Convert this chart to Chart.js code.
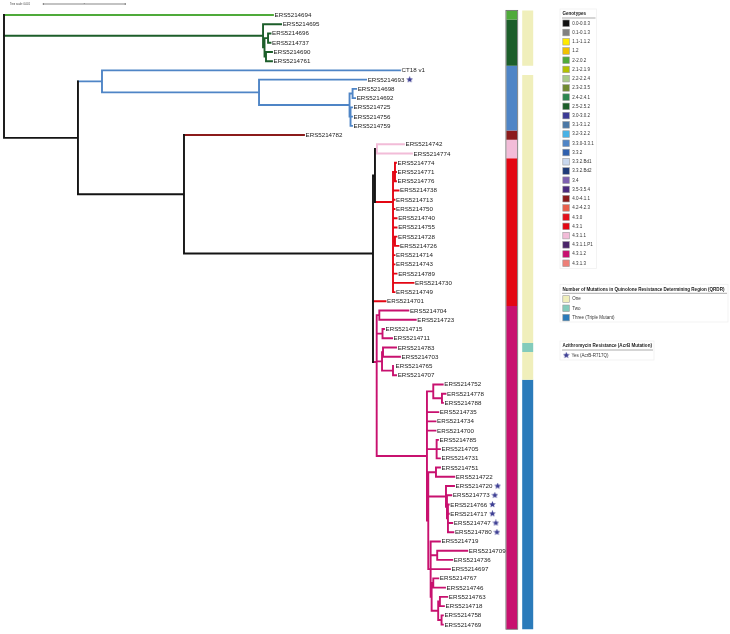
<!DOCTYPE html>
<html>
<head>
<meta charset="utf-8">
<script src="https://cdn.jsdelivr.net/npm/chart.js@4.4.1/dist/chart.umd.min.js"></script>
<style>
html,body{margin:0;padding:0;background:#fff;}
#wrap{position:relative;width:730px;height:634px;}
</style>
</head>
<body>
<div id="wrap"><canvas id="c"></canvas></div>
<script>
// ---------------- DATA ----------------
// Phylogeny (Newick, branch lengths in substitutions/site; "_" = space)
const treeNewick = `(
ERS5214694:0.003280,
(ERS5214695:0.000220,((ERS5214696:0.000030,ERS5214737:0.000030):0.000043,(ERS5214690:0.000073,ERS5214761:0.000073):0.000018):0.000018):0.003159,
(
 (CT18_v1:0.003634,(ERS5214693:0.001305,((ERS5214698:0.000043,ERS5214692:0.000030):0.000037,(ERS5214725:0.000018,ERS5214756:0.000018,ERS5214759:0.000018):0.000012):0.001104):0.001915):0.000293,
 (ERS5214782:0.001463,
  (
   ((ERS5214742:0.000329,ERS5214774:0.000427):0.000024,
    ((ERS5214774:0.000012,ERS5214771:0.000012,ERS5214776:0.000012):0.000024,
     (ERS5214738:0.000067,ERS5214713:0.000018,ERS5214750:0.000018,ERS5214740:0.000043,ERS5214755:0.000043,(ERS5214728:0.000018,ERS5214726:0.000043):0.000024,
      (ERS5214714:0.000018,ERS5214743:0.000018,ERS5214789:0.000043,ERS5214730:0.000250,ERS5214749:0.000018):0
     ):0
    ):0.000220
   ):0.000024,
   (ERS5214701:0.000152,
    ((ERS5214704:0.000354,ERS5214723:0.000444):0.000032,
     (ERS5214715:0.000018,ERS5214711:0.000116):0.000071,
     (
      ((ERS5214783:0.000159,ERS5214703:0.000207):0.000012,(ERS5214765:0.000012,ERS5214707:0.000037):0.000134):0.000065,
      (
       (ERS5214752:0.000115,(ERS5214778:0.000043,ERS5214788:0.000012):0.000106):0.000077,
       ERS5214735:0.000138,ERS5214734:0.000104,ERS5214700:0.000104,
       (ERS5214785:0.000016,ERS5214705:0.000040,ERS5214731:0.000040):0.000118,
       (
        (ERS5214751:0.000049,ERS5214722:0.000223):0.000094,
        (ERS5214720:0.000098,(ERS5214773:0.000052,(ERS5214766:0.000010,ERS5214717:0.000010,ERS5214747:0.000052,ERS5214780:0.000065):0.000012):0.000012):0.000216,
        (ERS5214719:0.000113,(ERS5214709:0.000366,ERS5214736:0.000183):0.000080,ERS5214697:0.000235,
         ((ERS5214767:0.000061,ERS5214746:0.000143):0.000020,((ERS5214763:0.000089,ERS5214718:0.000049):0.000021,(ERS5214758:0.000016,ERS5214769:0.000016):0.000041):0.000080):0.000012
        ):0.000029
       ):0.000016
      ):0.000613
     ):0
    ):0.000045
   ):0
  ):0.002305
 ):0.001293
):0.000902
);`;

const genotypeLabels = ['0.0-0.0.3','0.1-0.1.3','1.1-1.1.2','1.2','2-2.0.2','2.1-2.1.9','2.2-2.2.4','2.3-2.3.5','2.4-2.4.1','2.5-2.5.2','3.0-3.0.2','3.1-3.1.2','3.2-3.2.2','3.3.0-3.3.1','3.3.2','3.3.2.Bd1','3.3.2.Bd2','3.4','3.5-3.5.4','4.0-4.1.1','4.2-4.2.3','4.3.0','4.3.1','4.3.1.1','4.3.1.1.P1','4.3.1.2','4.3.1.3'];
const genotypeColors = ['#111111','#808080','#FFEA00','#F2C200','#4FAA3A','#B4C200','#A9CB8A','#6F8A30','#2C8650','#1C5E2A','#3B3A95','#4B78A6','#48B2E6','#4F85C6','#2F60AE','#C9D8EE','#1F3B78','#7D5FB0','#4A2A7E','#8B1B1B','#E9604B','#E3101B','#E30613','#F2BCD8','#4A2468','#C8116F','#EE7F78'];

// genotype of each tip, top to bottom
const rowGenotype = [
 '2-2.0.2',
 '2.5-2.5.2','2.5-2.5.2','2.5-2.5.2','2.5-2.5.2','2.5-2.5.2',
 '3.3.0-3.3.1','3.3.0-3.3.1','3.3.0-3.3.1','3.3.0-3.3.1','3.3.0-3.3.1','3.3.0-3.3.1','3.3.0-3.3.1',
 '4.0-4.1.1',
 '4.3.1.1','4.3.1.1',
 '4.3.1','4.3.1','4.3.1','4.3.1','4.3.1','4.3.1','4.3.1','4.3.1',
 '4.3.1','4.3.1','4.3.1','4.3.1','4.3.1','4.3.1','4.3.1','4.3.1',
 '4.3.1.2','4.3.1.2','4.3.1.2','4.3.1.2','4.3.1.2','4.3.1.2','4.3.1.2','4.3.1.2','4.3.1.2','4.3.1.2',
 '4.3.1.2','4.3.1.2','4.3.1.2','4.3.1.2','4.3.1.2','4.3.1.2','4.3.1.2','4.3.1.2','4.3.1.2','4.3.1.2',
 '4.3.1.2','4.3.1.2','4.3.1.2','4.3.1.2','4.3.1.2','4.3.1.2','4.3.1.2','4.3.1.2','4.3.1.2','4.3.1.2',
 '4.3.1.2','4.3.1.2','4.3.1.2','4.3.1.2','4.3.1.2'
];

const qrdrKeys = ['One','Two','Three'];
const qrdrLabels = ['One','Two','Three (Triple Mutant)'];
const qrdrColors = ['#F0EFBB','#83CBBB','#2B7BBA'];
// QRDR mutation count of each tip, top to bottom (null = no data)
const rowQrdr = [
 'One','One','One','One','One','One',
 null,
 'One','One','One','One','One','One','One','One','One','One',
 'One','One','One','One','One','One','One','One','One','One',
 'One','One','One','One','One','One','One','One','One',
 'Two',
 'One','One','One',
 'Three','Three','Three','Three','Three','Three','Three','Three','Three','Three',
 'Three','Three','Three','Three','Three','Three','Three','Three','Three','Three',
 'Three','Three','Three','Three','Three','Three','Three'
];

const azmLabel = 'Yes (AcrB-R717Q)';
const azmResistant = ['ERS5214693','ERS5214720','ERS5214773','ERS5214766','ERS5214717','ERS5214747','ERS5214780'];
const treeScaleValue = 0.001;

// ---------------- LAYOUT CONSTANTS ----------------
const W = 730, H = 634;
const PX_PER_UNIT = 82000, ROOT_PX = 4;
const ROW0_PX = 15, ROW_STEP = 9.236;
const FONT = "'Liberation Sans', Arial, sans-serif";
const LABEL_FONT = '6.2px ' + FONT;
const STAR_COLOR = '#3E3F94';

// ---------------- TREE PARSE / LAYOUT ----------------
function parseNewick(str){
  const s = str.replace(/\s+/g,'');
  let i = 0;
  function node(){
    const n = {children:[], name:'', len:0};
    if (s[i] === '('){
      i++;
      do { const c = node(); c.parent = n; n.children.push(c); } while (s[i++] === ',');
    }
    let name = '';
    while (i < s.length && !',():;'.includes(s[i])) name += s[i++];
    n.name = name.replace(/_/g,' ');
    if (s[i] === ':'){ i++; let num=''; while (i < s.length && !',();'.includes(s[i])) num += s[i++]; n.len = parseFloat(num); }
    return n;
  }
  return node();
}
const root = parseNewick(treeNewick);
const leaves = [];
(function lay(n, base){
  n.x = base + n.len;
  if (!n.children.length){ n.y = leaves.length; leaves.push(n); return; }
  n.children.forEach(c => lay(c, n.x));
  n.y = (n.children[0].y + n.children[n.children.length-1].y) / 2;
})(root, 0);
leaves.forEach((lf,i) => { lf.geno = rowGenotype[i]; });
(function geno(n){
  if (!n.children.length) return n.geno;
  const g = n.children.map(geno);
  n.geno = g.every(v => v && v === g[0]) ? g[0] : null;
  return n.geno;
})(root);
const genoColor = g => g ? genotypeColors[genotypeLabels.indexOf(g)] : '#141414';

// branch segments grouped by colour
const branchMap = new Map();
function seg(col, a, b){
  if (!branchMap.has(col)) branchMap.set(col, []);
  branchMap.get(col).push(a, b, {x:null, y:null});
}
(function walk(n){
  const col = genoColor(n.geno);
  if (n.parent) seg(col, {x:n.parent.x, y:n.y}, {x:n.x, y:n.y});
  if (n.children.length){
    seg(col, {x:n.x, y:n.children[0].y}, {x:n.x, y:n.children[n.children.length-1].y});
    n.children.forEach(walk);
  }
})(root);

const datasets = [];
[...branchMap.entries()].sort((a,b)=> (a[0]==='#141414') - (b[0]==='#141414')).reverse().forEach(([col, pts]) => {
  datasets.push({type:'scatter', data:pts, showLine:true, borderColor:col, backgroundColor:col,
    borderWidth:1.9, pointRadius:0, spanGaps:false, borderCapStyle:'square', xAxisID:'x', yAxisID:'y'});
});

// colour strips (runs of equal values)
function stripDatasets(values, keys, colors, xCenter, width){
  const out = new Map();
  let start = 0;
  for (let r = 1; r <= values.length; r++){
    if (r === values.length || values[r] !== values[start]){
      const v = values[start];
      if (v !== null){
        const col = colors[keys.indexOf(v)];
        if (!out.has(col)) out.set(col, []);
        out.get(col).push({x:xCenter, y:start-0.5}, {x:xCenter, y:r-0.5}, {x:null, y:null});
      }
      start = r;
    }
  }
  return [...out.entries()].map(([col, pts]) => ({type:'scatter', data:pts, showLine:true, borderColor:col,
    borderWidth:width, pointRadius:0, spanGaps:false, borderCapStyle:'butt', xAxisID:'xs', yAxisID:'y'}));
}
const STRIP1 = {c:511.8, w:11}, STRIP2 = {c:527.7, w:11};
datasets.push(...stripDatasets(rowGenotype, genotypeLabels, genotypeColors, STRIP1.c, STRIP1.w));
datasets.push(...stripDatasets(rowQrdr, qrdrKeys, qrdrColors, STRIP2.c, STRIP2.w));

// star markers after the labels
function makeStar(size, color){
  const c = document.createElement('canvas'); c.width = c.height = size;
  const g = c.getContext('2d'); g.fillStyle = color; g.beginPath();
  const R = size/2, r = R*0.45;
  for (let k=0;k<10;k++){ const a = -Math.PI/2 + k*Math.PI/5, rr = k%2 ? r : R; g.lineTo(R + rr*Math.cos(a), R + rr*Math.sin(a)); }
  g.closePath(); g.fill(); return c;
}
const starImg = makeStar(7, STAR_COLOR);
const mctx = document.createElement('canvas').getContext('2d');
mctx.font = LABEL_FONT;
const starPts = leaves.filter(l => azmResistant.includes(l.name)).map(l => ({
  x: l.x + (1.6 + mctx.measureText(l.name).width + 5.2) / PX_PER_UNIT, y: l.y }));
datasets.unshift({type:'scatter', data:starPts, pointStyle:starImg, pointRadius:3, xAxisID:'x', yAxisID:'y'});

// ---------------- DECORATION PLUGIN ----------------
const decor = {
  id:'decor',
  afterDatasetsDraw(chart){
    const ctx = chart.ctx, xs = chart.scales.x, ys = chart.scales.y;
    ctx.save();
    // strip frames
    const top = ys.getPixelForValue(-0.5), bot = ys.getPixelForValue(leaves.length-0.5);
    ctx.lineWidth = 0.8;
    ctx.strokeStyle = '#6a6a6a';
    ctx.strokeRect(STRIP1.c - STRIP1.w/2 - 0.4, top, STRIP1.w + 0.8, bot-top);
    // tip labels
    ctx.font = LABEL_FONT; ctx.fillStyle = '#222'; ctx.textBaseline = 'middle'; ctx.textAlign = 'left';
    leaves.forEach(l => ctx.fillText(l.name, xs.getPixelForValue(l.x) + 1.6, ys.getPixelForValue(l.y) + 0.3));
    // tree scale
    const x0 = 43.3, len = xs.getPixelForValue(treeScaleValue) - xs.getPixelForValue(0);
    ctx.strokeStyle = '#555'; ctx.lineWidth = 0.7;
    ctx.beginPath(); ctx.moveTo(x0, 4); ctx.lineTo(x0+len, 4);
    ctx.moveTo(x0, 3); ctx.lineTo(x0, 5); ctx.moveTo(x0+len, 3); ctx.lineTo(x0+len, 5);
    ctx.moveTo(x0+len/2, 3.3); ctx.lineTo(x0+len/2, 4); ctx.stroke();
    ctx.font = '2.6px ' + FONT; ctx.fillStyle = '#333';
    ctx.fillText('Tree scale: ' + treeScaleValue, 10, 4.2);

    // legends
    const LX = 562.5;
    function panel(title, titleY, right, boxBottom){
      ctx.strokeStyle = '#f0f0f0'; ctx.lineWidth = 0.8;
      ctx.strokeRect(LX - 2.5, titleY - 5, right - LX + 3.5, boxBottom - titleY + 5);
      ctx.font = 'bold 4.55px ' + FONT; ctx.fillStyle = '#222'; ctx.textBaseline = 'middle';
      ctx.fillText(title, LX, titleY);
      ctx.strokeStyle = '#888'; ctx.lineWidth = 0.7;
      ctx.beginPath(); ctx.moveTo(LX - 0.5, titleY + 4); ctx.lineTo(right, titleY + 4); ctx.stroke();
    }
    function swatch(y, col){
      ctx.fillStyle = col; ctx.fillRect(LX + 0.3, y - 3.3, 6.6, 6.6);
      ctx.strokeStyle = '#9a9a9a'; ctx.lineWidth = 0.6; ctx.strokeRect(LX + 0.3, y - 3.3, 6.6, 6.6);
    }
    function itemText(t, x, y){ ctx.font = '4.5px ' + FONT; ctx.fillStyle = '#333'; ctx.fillText(t, x, y + 0.2); }

    panel('Genotypes', 14, 595.5, 268.5);
    genotypeLabels.forEach((g, i) => { const y = 23.3 + i*9.23; swatch(y, genotypeColors[i]); itemText(g, 572.3, y); });

    panel('Number of Mutations in Quinolone Resistance Determining Region (QRDR)', 289.3, 727, 322);
    qrdrLabels.forEach((q, i) => { const y = 299 + i*9.3; swatch(y, qrdrColors[i]); itemText(q, 572.3, y); });

    panel('Azithromycin Resistance (AcrB Mutation)', 346, 653, 360);
    ctx.drawImage(starImg, LX + 0.3, 355.3 - 3.5, 7, 7);
    itemText(azmLabel, 571.5, 355.3);
    ctx.restore();
  }
};

new Chart(document.getElementById('c'), {
  type:'scatter',
  data:{datasets},
  options:{
    responsive:true, maintainAspectRatio:false, animation:false, events:[],
    layout:{padding:0, autoPadding:false},
    plugins:{legend:{display:false}, tooltip:{enabled:false}},
    scales:{
      x:{type:'linear', display:false, min:-ROOT_PX/PX_PER_UNIT, max:(W-ROOT_PX)/PX_PER_UNIT},
      xs:{type:'linear', display:false, min:0, max:W},
      y:{type:'linear', display:false, reverse:true, min:-ROW0_PX/ROW_STEP, max:(H-ROW0_PX)/ROW_STEP}
    }
  },
  plugins:[decor]
});
</script>
</body>
</html>
